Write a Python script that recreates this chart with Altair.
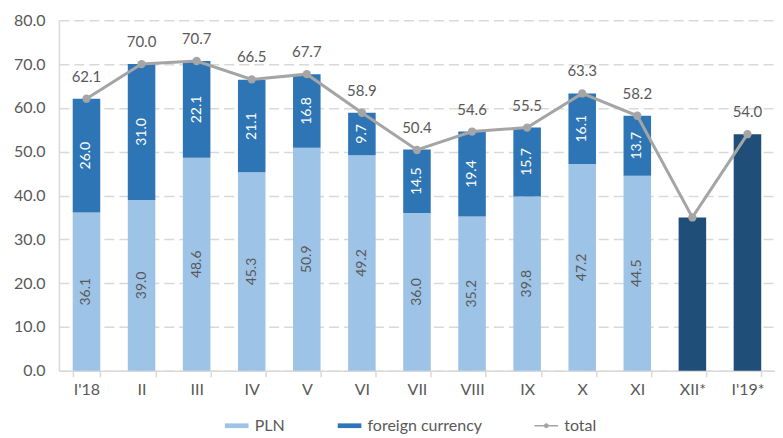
import altair as alt
import pandas as pd

categories = ["I'18", "II", "III", "IV", "V", "VI", "VII", "VIII", "IX", "X", "XI", "XII*", "I'19*"]
pln = [36.1, 39.0, 48.6, 45.3, 50.9, 49.2, 36.0, 35.2, 39.8, 47.2, 44.5]
foreign = [26.0, 31.0, 22.1, 21.1, 16.8, 9.7, 14.5, 19.4, 15.7, 16.1, 13.7]
total = [62.1, 70.0, 70.7, 66.5, 67.7, 58.9, 50.4, 54.6, 55.5, 63.3, 58.2, 35.0, 54.0]
forecast_cats = ["XII*", "I'19*"]
forecast_vals = [35.0, 54.0]
series_names = ["PLN", "foreign currency", "total"]

FONT = "Lato"
GREY_TXT = "#595959"

rows = []
for i, c in enumerate(categories[:len(pln)]):
    rows.append({"cat": c, "series": "PLN", "value": pln[i], "ord": 0})
    rows.append({"cat": c, "series": "foreign currency", "value": foreign[i], "ord": 1})
bars_df = pd.DataFrame(rows)
fc_df = pd.DataFrame({"cat": forecast_cats, "value": forecast_vals})
tot_df = pd.DataFrame({"cat": categories, "total": total})
leg_df = pd.DataFrame({"series": series_names})

x_enc = alt.X("cat:N", sort=categories, scale=alt.Scale(domain=categories, paddingInner=0.5, paddingOuter=0.25),
              axis=alt.Axis(title=None, labelAngle=0, labelFontSize=16, labelColor=GREY_TXT, labelFont=FONT,
                            domainColor="#d9d9d9", tickColor="#d9d9d9", tickBand="extent", tickSize=6,
                            labelPadding=5, domainWidth=1.5, tickWidth=1.5))
y_scale = alt.Scale(domain=[0, 80], nice=False)
y_axis = alt.Axis(title=None, values=[0, 10, 20, 30, 40, 50, 60, 70, 80], format=".1f", labelFontSize=16,
                  labelColor=GREY_TXT, labelFont=FONT, domainColor="#d9d9d9", domainWidth=1.5, ticks=False,
                  gridColor="#d9d9d9", gridDash=[10, 5], gridWidth=1.5, labelPadding=14)

color_scale = alt.Scale(domain=series_names, range=["#9dc3e6", "#2e75b6", "#a5a5a5"])

rect_path = "M-1,-0.2H1V0.2H-1Z"
line_path = "M-1,-0.06H-0.18V0.06H-1Z M0.18,-0.06H1V0.06H0.18Z M0,-0.2A0.2,0.2 0 1,1 0,0.2A0.2,0.2 0 1,1 0,-0.2Z"
shape_scale = alt.Scale(domain=series_names, range=[rect_path, rect_path, line_path])

legend = alt.Legend(title=None, orient="none", legendX=166, legendY=394, direction="horizontal",
                    labelFontSize=16, labelFont=FONT, labelColor=GREY_TXT, symbolSize=560, symbolOpacity=1,
                    symbolStrokeWidth=0, columnPadding=52, labelOffset=6)

base = alt.Chart(bars_df)
bars = base.mark_bar().encode(
    x=x_enc,
    y=alt.Y("value:Q", stack="zero", scale=y_scale, axis=y_axis),
    color=alt.Color("series:N", scale=color_scale, legend=legend),
    order=alt.Order("ord:Q"),
)

stacked = base.transform_stack(
    stack="value", groupby=["cat"], as_=["v0", "v1"], sort=[alt.SortField("ord")]
).transform_calculate(
    mid="(datum.v0 + datum.v1) / 2",
)

pln_labels = stacked.transform_filter("datum.series == 'PLN'").mark_text(
    angle=270, fontSize=14, font=FONT, color=GREY_TXT).encode(
    x=alt.X("cat:N", sort=categories),
    y=alt.Y("mid:Q"),
    text=alt.Text("value:Q", format=".1f"),
)
fx_labels = stacked.transform_filter("datum.series != 'PLN'").mark_text(
    angle=270, fontSize=14, font=FONT, color="#ffffff").encode(
    x=alt.X("cat:N", sort=categories),
    y=alt.Y("mid:Q"),
    text=alt.Text("value:Q", format=".1f"),
)

fc_bars = alt.Chart(fc_df).mark_bar(color="#1f4e79").encode(
    x=alt.X("cat:N", sort=categories),
    y=alt.Y("value:Q"),
)

line = alt.Chart(tot_df).mark_line(color="#a5a5a5", strokeWidth=3,
                                   point=alt.OverlayMarkDef(color="#a5a5a5", size=70, filled=True)).encode(
    x=alt.X("cat:N", sort=categories),
    y=alt.Y("total:Q"),
)

tot_labels = alt.Chart(tot_df).transform_filter("datum.cat != 'XII*'").mark_text(
    dy=-22, fontSize=15, font=FONT, color=GREY_TXT).encode(
    x=alt.X("cat:N", sort=categories),
    y=alt.Y("total:Q"),
    text=alt.Text("total:Q", format=".1f"),
)

legend_layer = alt.Chart(leg_df).mark_point(filled=True, opacity=0).encode(
    x=alt.X("series:N", scale=alt.Scale(domain=categories)),
    color=alt.Color("series:N", scale=color_scale, legend=legend),
    shape=alt.Shape("series:N", scale=shape_scale, legend=legend),
)

chart = alt.layer(bars, fc_bars, pln_labels, fx_labels, line, tot_labels, legend_layer).properties(
    width=717, height=351,
    padding={"top": 4, "left": 5, "right": 0, "bottom": 0},
).configure_view(stroke=None)

chart.save("out.html", embed_options={"renderer": "svg", "actions": False})
